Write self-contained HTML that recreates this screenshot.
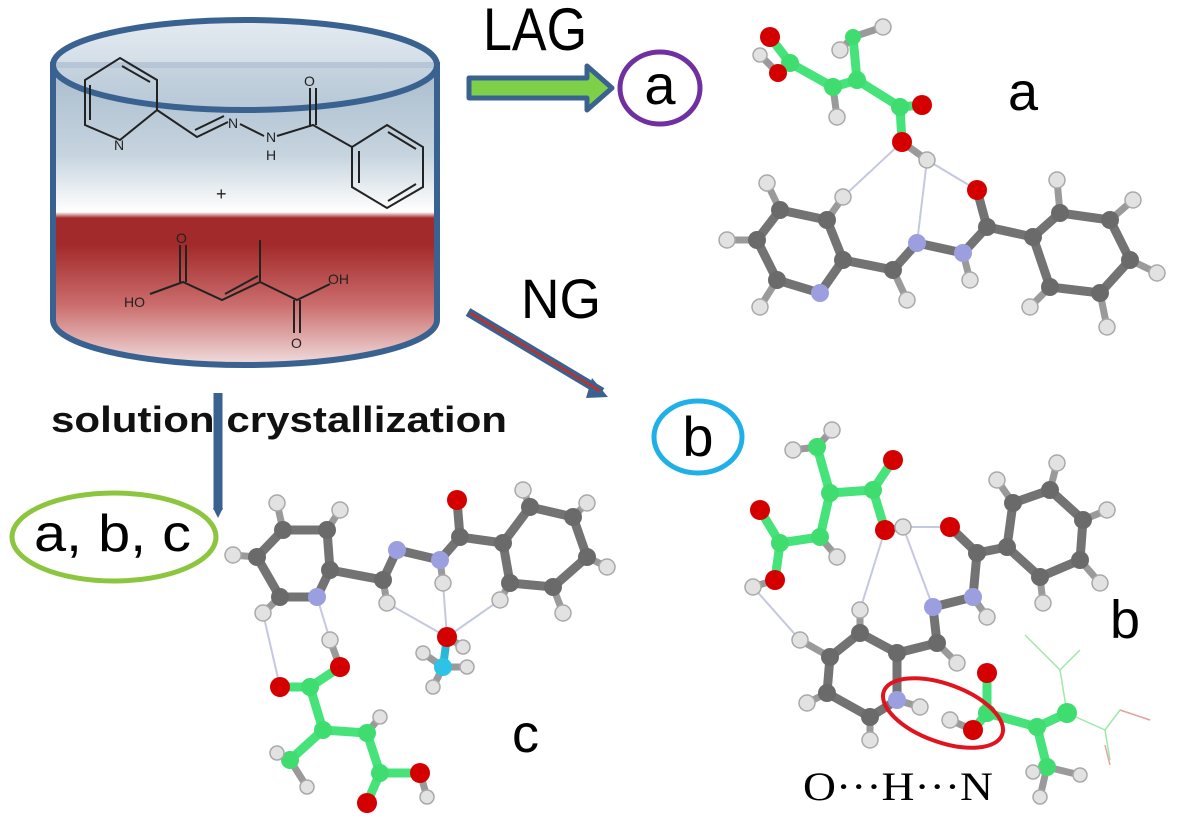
<!DOCTYPE html>
<html><head><meta charset="utf-8"><style>
html,body{margin:0;padding:0;background:#fff}
svg{display:block}
.g line,.g polyline,.g polygon{stroke:#737373;stroke-width:9;stroke-linecap:round;fill:none}
.gr line,.gr polyline{stroke:#46e27a;stroke-width:9;stroke-linecap:round;fill:none}
.hl line{stroke:#9a9a9a;stroke-width:7;stroke-linecap:round}
.hb line{stroke:#c4c8e0;stroke-width:2}
.C{fill:#6a6a6a}.H{fill:#e2e2e2;stroke:#a9a9a9;stroke-width:1.5}.O{fill:#d40000}.N{fill:#9b9fe0}.G{fill:#3fdc70}
.sk line,.sk polyline,.sk polygon{stroke:#222;stroke-width:2;fill:none}
</style></head><body>
<svg width="1177" height="822" viewBox="0 0 1177 822" xmlns="http://www.w3.org/2000/svg">
<defs>
<linearGradient id="body" x1="0" y1="0" x2="0" y2="1">
<stop offset="0" stop-color="#a9bccd"/><stop offset="0.3" stop-color="#c6d4df"/><stop offset="0.45" stop-color="#f4f6f7"/>
<stop offset="0.49" stop-color="#fff"/><stop offset="0.51" stop-color="#a32a2a"/><stop offset="0.6" stop-color="#a32a2a"/>
<stop offset="0.8" stop-color="#cb6d6d"/><stop offset="1" stop-color="#f1dede"/></linearGradient>
<linearGradient id="top" x1="0" y1="0" x2="0" y2="1"><stop offset="0" stop-color="#dfe7ee"/><stop offset="1" stop-color="#b8c8d7"/></linearGradient>
</defs>
<path d="M53,65 L53,320 A192,45 0 0 0 437,320 L437,65 Z" fill="url(#body)" stroke="#3a6290" stroke-width="6"/>
<ellipse cx="245" cy="65" rx="192" ry="45" fill="url(#top)" fill-opacity="0.85" stroke="#3a6290" stroke-width="6"/>
<g class="sk">
<polygon points="120,58 157,80 157,110 120,140 85,125 85,80"/>
<line x1="90" y1="85" x2="90" y2="120"/><line x1="122" y1="66" x2="150" y2="82"/>
<polyline points="157,110 197,137 228,122"/><line x1="195" y1="130" x2="224" y2="116"/>
<polyline points="240,124 264,136"/><polyline points="277,136 313,125 352,147"/>
<line x1="310" y1="125" x2="310" y2="88"/><line x1="316" y1="125" x2="316" y2="88"/>
<polygon points="387,125 423,147 423,187 387,208 352,187 352,147"/>
<line x1="359" y1="151" x2="359" y2="183"/><line x1="388" y1="132" x2="416" y2="149"/><line x1="388" y1="201" x2="416" y2="184"/>
<polyline points="150,294 183,282 222,300 260,282 297,300 330,284"/>
<line x1="180" y1="282" x2="180" y2="245"/><line x1="186" y1="282" x2="186" y2="245"/>
<line x1="225" y1="294" x2="258" y2="276"/><line x1="260" y1="282" x2="260" y2="240"/>
<line x1="294" y1="300" x2="294" y2="333"/><line x1="300" y1="300" x2="300" y2="333"/>
</g>
<g font-family="Liberation Sans, sans-serif" font-size="14" fill="#222">
<text x="114" y="150">N</text><text x="228" y="128">N</text><text x="266" y="142">N</text><text x="266" y="160">H</text>
<text x="304" y="86">O</text><text x="216" y="200" font-size="18">+</text>
<text x="124" y="307">HO</text><text x="176" y="243">O</text><text x="328" y="284">OH</text><text x="291" y="348">O</text>
</g>
<text x="483" y="50" font-family="Liberation Sans, sans-serif" font-size="60" textLength="104" lengthAdjust="spacingAndGlyphs">LAG</text>
<polygon points="469,78 587,78 587,66 612,88 587,110 587,98 469,98" fill="#7ed048" stroke="#3a6290" stroke-width="5" stroke-linejoin="round"/>
<ellipse cx="660" cy="88" rx="40" ry="36" fill="none" stroke="#7030a0" stroke-width="5"/>
<text x="660" y="104" text-anchor="middle" font-family="Liberation Sans, sans-serif" font-size="56">a</text>
<text x="521" y="318" font-family="Liberation Sans, sans-serif" font-size="56" textLength="80" lengthAdjust="spacingAndGlyphs">NG</text>
<line x1="468" y1="312" x2="602" y2="392" stroke="#3a6290" stroke-width="9"/>
<polygon points="592,378 608,397 586,398" fill="#3a6290"/>
<line x1="470" y1="313" x2="600" y2="391" stroke="#c0302a" stroke-width="2.5"/>
<ellipse cx="698" cy="437" rx="44" ry="36" fill="none" stroke="#1fb0e8" stroke-width="5"/>
<text x="698" y="456" text-anchor="middle" font-family="Liberation Sans, sans-serif" font-size="56">b</text>
<line x1="218" y1="393" x2="218" y2="510" stroke="#3a6290" stroke-width="9"/>
<polygon points="213,508 223,508 218,518" fill="#3a6290"/>
<text x="51" y="432" font-family="Liberation Sans, sans-serif" font-weight="bold" font-size="36" textLength="456" lengthAdjust="spacingAndGlyphs" fill="#111">solution crystallization</text>
<ellipse cx="114" cy="537" rx="102" ry="44" fill="none" stroke="#8cc63f" stroke-width="5"/>
<text x="34" y="551" font-family="Liberation Sans, sans-serif" font-size="52" textLength="157" lengthAdjust="spacingAndGlyphs">a, b, c</text>

<!-- H bonds (covalent) -->
<g class="hl">
<line x1="883" y1="27" x2="853" y2="37"/><line x1="840" y1="50" x2="853" y2="37"/><line x1="837" y1="117" x2="833" y2="87"/><line x1="760" y1="55" x2="778" y2="73"/><line x1="927" y1="160" x2="902" y2="142"/>
<line x1="843" y1="197" x2="827" y2="220"/><line x1="767" y1="183" x2="780" y2="210"/><line x1="727" y1="240" x2="757" y2="240"/><line x1="760" y1="307" x2="777" y2="280"/><line x1="907" y1="300" x2="893" y2="270"/><line x1="970" y1="280" x2="963" y2="253"/>
<line x1="1057" y1="180" x2="1060" y2="213"/><line x1="1133" y1="200" x2="1110" y2="220"/><line x1="1157" y1="273" x2="1130" y2="260"/><line x1="1107" y1="327" x2="1100" y2="293"/><line x1="1030" y1="307" x2="1050" y2="287"/>
<line x1="832" y1="430" x2="817" y2="447"/><line x1="793" y1="450" x2="817" y2="447"/><line x1="903" y1="527" x2="885" y2="530"/><line x1="837" y1="557" x2="820" y2="537"/><line x1="753" y1="587" x2="775" y2="580"/>
<line x1="997" y1="480" x2="1013" y2="503"/><line x1="1057" y1="463" x2="1050" y2="490"/><line x1="1107" y1="510" x2="1083" y2="520"/><line x1="1100" y1="583" x2="1080" y2="560"/><line x1="1043" y1="603" x2="1040" y2="577"/>
<line x1="987" y1="617" x2="973" y2="597"/><line x1="957" y1="663" x2="937" y2="643"/><line x1="860" y1="610" x2="860" y2="633"/><line x1="800" y1="640" x2="830" y2="657"/><line x1="807" y1="703" x2="827" y2="693"/><line x1="870" y1="740" x2="870" y2="717"/>
<line x1="920" y1="707" x2="897" y2="700"/><line x1="950" y1="720" x2="973" y2="730"/><line x1="1033" y1="772" x2="1047" y2="767"/><line x1="1080" y1="775" x2="1047" y2="767"/><line x1="1040" y1="797" x2="1047" y2="767"/>
<line x1="277" y1="503" x2="283" y2="530"/><line x1="340" y1="510" x2="327" y2="530"/><line x1="233" y1="555" x2="257" y2="557"/><line x1="263" y1="613" x2="280" y2="597"/><line x1="387" y1="603" x2="383" y2="580"/><line x1="443" y1="583" x2="440" y2="560"/>
<line x1="523" y1="490" x2="530" y2="507"/><line x1="587" y1="503" x2="573" y2="517"/><line x1="607" y1="567" x2="587" y2="557"/><line x1="563" y1="613" x2="553" y2="587"/><line x1="500" y1="600" x2="510" y2="583"/>
<line x1="330" y1="640" x2="340" y2="667"/><line x1="277" y1="753" x2="290" y2="760"/><line x1="307" y1="787" x2="290" y2="760"/><line x1="380" y1="717" x2="367" y2="733"/><line x1="427" y1="797" x2="420" y2="773"/>
<line x1="463" y1="647" x2="447" y2="637"/><line x1="423" y1="653" x2="443" y2="667"/><line x1="467" y1="667" x2="443" y2="667"/><line x1="433" y1="687" x2="443" y2="667"/>
</g>

<!-- molecule a -->
<g class="hb"><line x1="902" y1="142" x2="843" y2="197"/><line x1="927" y1="160" x2="917" y2="243"/><line x1="927" y1="160" x2="977" y2="190"/></g>
<g class="gr"><polyline points="778,73 790,63 833,87 857,80 900,107 902,142"/><line x1="857" y1="80" x2="853" y2="37"/><line x1="790" y1="63" x2="770" y2="37"/><line x1="900" y1="107" x2="922" y2="105"/></g>
<g class="g">
<polygon points="780,210 827,220 843,260 820,293 777,280 757,240"/>
<polyline points="843,260 893,270 917,243 963,253 987,227 1033,237"/><line x1="987" y1="227" x2="977" y2="190" stroke="#c33"/>
<polygon points="1033,237 1060,213 1110,220 1130,260 1100,293 1050,287"/>
</g>
<g>
<circle class="H" cx="883" cy="27" r="8"/><circle class="H" cx="840" cy="50" r="8"/><circle class="H" cx="837" cy="117" r="8"/><circle class="H" cx="760" cy="55" r="7"/>
<circle class="G" cx="790" cy="63" r="9"/><circle class="G" cx="833" cy="87" r="9"/><circle class="G" cx="857" cy="80" r="9"/><circle class="G" cx="853" cy="37" r="8"/><circle class="G" cx="900" cy="107" r="9"/>
<circle class="O" cx="770" cy="37" r="10"/><circle class="O" cx="778" cy="73" r="9"/><circle class="O" cx="922" cy="105" r="10"/><circle class="O" cx="902" cy="142" r="10"/><circle class="H" cx="927" cy="160" r="8"/>
<circle class="H" cx="843" cy="197" r="8"/><circle class="H" cx="767" cy="183" r="8"/><circle class="H" cx="727" cy="240" r="8"/><circle class="H" cx="760" cy="307" r="8"/>
<circle class="H" cx="907" cy="300" r="8"/><circle class="H" cx="970" cy="280" r="8"/>
<circle class="H" cx="1057" cy="180" r="8"/><circle class="H" cx="1133" cy="200" r="8"/><circle class="H" cx="1157" cy="273" r="8"/><circle class="H" cx="1107" cy="327" r="8"/><circle class="H" cx="1030" cy="307" r="8"/>
<circle class="C" cx="780" cy="210" r="9"/><circle class="C" cx="827" cy="220" r="9"/><circle class="C" cx="843" cy="260" r="9"/><circle class="N" cx="820" cy="293" r="9"/><circle class="C" cx="777" cy="280" r="9"/><circle class="C" cx="757" cy="240" r="9"/>
<circle class="C" cx="893" cy="270" r="9"/><circle class="N" cx="917" cy="243" r="9"/><circle class="N" cx="963" cy="253" r="9"/><circle class="C" cx="987" cy="227" r="9"/><circle class="O" cx="977" cy="190" r="10"/>
<circle class="C" cx="1033" cy="237" r="9"/><circle class="C" cx="1060" cy="213" r="9"/><circle class="C" cx="1110" cy="220" r="9"/><circle class="C" cx="1130" cy="260" r="9"/><circle class="C" cx="1100" cy="293" r="9"/><circle class="C" cx="1050" cy="287" r="9"/>
</g>
<text x="1008" y="110" font-family="Liberation Sans, sans-serif" font-size="54">a</text>

<!-- molecule b -->
<g class="hb"><line x1="903" y1="527" x2="950" y2="527"/><line x1="885" y1="530" x2="860" y2="610"/><line x1="903" y1="527" x2="933" y2="607"/><line x1="753" y1="587" x2="800" y2="640"/></g>
<g class="gr"><polyline points="817,447 830,493 873,490 885,530"/><line x1="873" y1="490" x2="893" y2="460"/><polyline points="830,493 820,537 780,543 760,510"/><line x1="780" y1="543" x2="775" y2="580"/>
<polyline points="973,730 987,713 1037,727 1067,713"/><line x1="987" y1="713" x2="987" y2="673"/><line x1="1037" y1="727" x2="1047" y2="767"/></g>
<g stroke="#9fe8a8" stroke-width="1.5" fill="none"><polyline points="1067,713 1060,670 1040,650 1025,635"/><line x1="1060" y1="670" x2="1080" y2="650"/><polyline points="1067,713 1105,730 1120,710 1150,720"/><line x1="1105" y1="730" x2="1110" y2="760"/></g>
<g stroke="#e8a0a0" stroke-width="1.5"><line x1="1120" y1="710" x2="1150" y2="720"/><line x1="1105" y1="745" x2="1110" y2="765"/></g>
<g class="g">
<polygon points="1007,547 1013,503 1050,490 1083,520 1080,560 1040,577"/>
<polyline points="1007,547 977,553 973,597 933,607 937,643 897,653"/><line x1="977" y1="553" x2="950" y2="527"/>
<polygon points="897,653 860,633 830,657 827,693 870,717 897,700"/>
</g>
<g>
<circle class="H" cx="832" cy="430" r="8"/><circle class="H" cx="793" cy="450" r="8"/><circle class="G" cx="817" cy="447" r="9"/>
<circle class="G" cx="830" cy="493" r="9"/><circle class="G" cx="873" cy="490" r="9"/><circle class="O" cx="893" cy="460" r="10"/><circle class="O" cx="885" cy="530" r="10"/><circle class="H" cx="903" cy="527" r="8"/>
<circle class="G" cx="820" cy="537" r="9"/><circle class="H" cx="837" cy="557" r="8"/><circle class="G" cx="780" cy="543" r="9"/><circle class="O" cx="760" cy="510" r="10"/><circle class="O" cx="775" cy="580" r="10"/><circle class="H" cx="753" cy="587" r="8"/>
<circle class="H" cx="997" cy="480" r="8"/><circle class="H" cx="1057" cy="463" r="8"/><circle class="H" cx="1107" cy="510" r="8"/><circle class="H" cx="1100" cy="583" r="8"/><circle class="H" cx="1043" cy="603" r="8"/>
<circle class="C" cx="1007" cy="547" r="9"/><circle class="C" cx="1013" cy="503" r="9"/><circle class="C" cx="1050" cy="490" r="9"/><circle class="C" cx="1083" cy="520" r="9"/><circle class="C" cx="1080" cy="560" r="9"/><circle class="C" cx="1040" cy="577" r="9"/>
<circle class="C" cx="977" cy="553" r="9"/><circle class="O" cx="950" cy="527" r="10"/><circle class="N" cx="973" cy="597" r="9"/><circle class="H" cx="987" cy="617" r="8"/><circle class="N" cx="933" cy="607" r="9"/><circle class="C" cx="937" cy="643" r="9"/><circle class="H" cx="957" cy="663" r="8"/>
<circle class="H" cx="860" cy="610" r="8"/><circle class="H" cx="800" cy="640" r="8"/><circle class="H" cx="807" cy="703" r="8"/><circle class="H" cx="870" cy="740" r="8"/>
<circle class="C" cx="897" cy="653" r="9"/><circle class="C" cx="860" cy="633" r="9"/><circle class="C" cx="830" cy="657" r="9"/><circle class="C" cx="827" cy="693" r="9"/><circle class="C" cx="870" cy="717" r="9"/><circle class="N" cx="897" cy="700" r="9"/>
<circle class="H" cx="920" cy="707" r="8"/><circle class="H" cx="950" cy="720" r="8"/><circle class="O" cx="973" cy="730" r="10"/>
<circle class="G" cx="987" cy="713" r="9"/><circle class="O" cx="987" cy="673" r="10"/><circle class="G" cx="1037" cy="727" r="9"/><circle class="G" cx="1067" cy="713" r="10"/><circle class="G" cx="1047" cy="767" r="9"/>
<circle class="H" cx="1033" cy="772" r="7"/><circle class="H" cx="1080" cy="775" r="7"/><circle class="H" cx="1040" cy="797" r="7"/>
</g>
<ellipse cx="943" cy="713" rx="63" ry="29" transform="rotate(20 943 713)" fill="none" stroke="#e0141e" stroke-width="4"/>
<text x="1110" y="638" font-family="Liberation Sans, sans-serif" font-size="54">b</text>
<text x="803" y="800" font-family="Liberation Serif, serif" font-size="40" textLength="190" lengthAdjust="spacingAndGlyphs">O···H···N</text>

<!-- molecule c -->
<g class="hb"><line x1="263" y1="613" x2="280" y2="687"/><line x1="317" y1="597" x2="330" y2="640"/><line x1="387" y1="603" x2="447" y2="637"/><line x1="443" y1="583" x2="447" y2="637"/><line x1="500" y1="600" x2="447" y2="637"/></g>
<g class="gr"><polyline points="340,667 310,687 323,730 367,733 380,773 420,773"/><line x1="310" y1="687" x2="280" y2="687"/><line x1="323" y1="730" x2="290" y2="760"/><line x1="380" y1="773" x2="367" y2="803"/></g>
<g class="g">
<polygon points="283,530 327,530 330,570 317,597 280,597 257,557"/>
<polyline points="330,570 383,580 397,550 440,560 460,537 503,543"/><line x1="460" y1="537" x2="457" y2="500"/>
<polygon points="503,543 530,507 573,517 587,557 553,587 510,583"/>
</g>
<g>
<circle class="H" cx="277" cy="503" r="8"/><circle class="H" cx="340" cy="510" r="8"/><circle class="H" cx="233" cy="555" r="8"/><circle class="H" cx="263" cy="613" r="8"/>
<circle class="C" cx="283" cy="530" r="9"/><circle class="C" cx="327" cy="530" r="9"/><circle class="C" cx="330" cy="570" r="9"/><circle class="N" cx="317" cy="597" r="9"/><circle class="C" cx="280" cy="597" r="9"/><circle class="C" cx="257" cy="557" r="9"/>
<circle class="C" cx="383" cy="580" r="9"/><circle class="H" cx="387" cy="603" r="8"/><circle class="N" cx="397" cy="550" r="9"/><circle class="N" cx="440" cy="560" r="9"/><circle class="H" cx="443" cy="583" r="8"/><circle class="C" cx="460" cy="537" r="9"/><circle class="O" cx="457" cy="500" r="10"/>
<circle class="H" cx="523" cy="490" r="8"/><circle class="H" cx="587" cy="503" r="8"/><circle class="H" cx="607" cy="567" r="8"/><circle class="H" cx="563" cy="613" r="8"/><circle class="H" cx="500" cy="600" r="8"/>
<circle class="C" cx="503" cy="543" r="9"/><circle class="C" cx="530" cy="507" r="9"/><circle class="C" cx="573" cy="517" r="9"/><circle class="C" cx="587" cy="557" r="9"/><circle class="C" cx="553" cy="587" r="9"/><circle class="C" cx="510" cy="583" r="9"/>
<line x1="447" y1="637" x2="443" y2="667" stroke="#29b6d8" stroke-width="8"/>
<circle class="H" cx="463" cy="647" r="7"/><circle class="H" cx="423" cy="653" r="7"/><circle class="H" cx="467" cy="667" r="7"/><circle class="H" cx="433" cy="687" r="7"/>
<circle cx="443" cy="667" r="9" fill="#2ec3e6"/><circle class="O" cx="447" cy="637" r="10"/>
<circle class="H" cx="330" cy="640" r="8"/><circle class="O" cx="340" cy="667" r="10"/><circle class="G" cx="310" cy="687" r="9"/><circle class="O" cx="280" cy="687" r="10"/>
<circle class="G" cx="323" cy="730" r="9"/><circle class="G" cx="290" cy="760" r="9"/><circle class="H" cx="277" cy="753" r="7"/><circle class="H" cx="307" cy="787" r="7"/>
<circle class="G" cx="367" cy="733" r="9"/><circle class="H" cx="380" cy="717" r="7"/><circle class="G" cx="380" cy="773" r="9"/><circle class="O" cx="420" cy="773" r="10"/><circle class="H" cx="427" cy="797" r="7"/><circle class="O" cx="367" cy="803" r="10"/>
</g>
<text x="512" y="752" font-family="Liberation Sans, sans-serif" font-size="54">c</text>
</svg>
</body></html>
